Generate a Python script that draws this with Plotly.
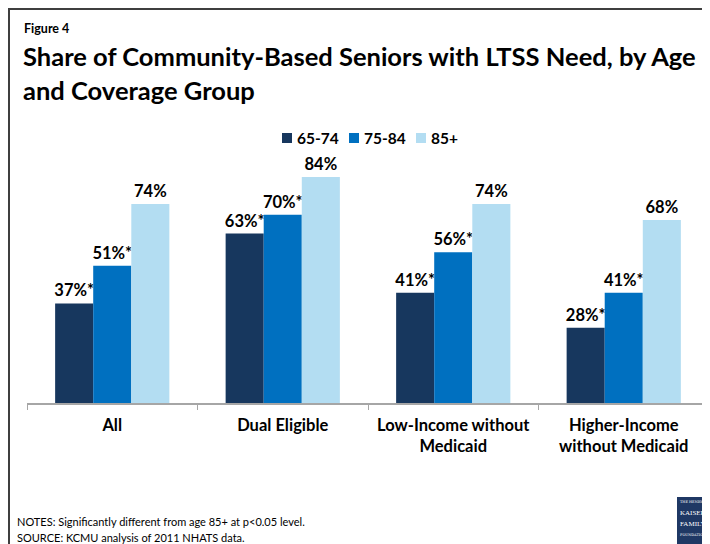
import plotly.graph_objects as go

categories = ["All", "Dual Eligible", "Low-Income without<br>Medicaid", "Higher-Income<br>without Medicaid"]
series_names = ["65-74", "75-84", "85+"]
v_65_74 = [37, 63, 41, 28]
v_75_84 = [51, 70, 56, 41]
v_85 = [74, 84, 74, 68]
lbl_65_74 = ["37%*", "63%*", "41%*", "28%*"]
lbl_75_84 = ["51%*", "70%*", "56%*", "41%*"]
lbl_85 = ["74%", "84%", "74%", "68%"]
colors = ["#17375E", "#0070C0", "#B3DDF2"]

# page body has an 8px margin; work in reference-pixel coords and shift
OFF = 8
W, H = 710 - OFF, 544 - OFF
L, R, T, B = 27 - OFF, 709 - OFF, 134 - OFF, 403 - OFF
ml, mr, mt, mb = L, W - R, T, H - B

def px(x):
    return (x - OFF - L) / (R - L)

def py(y):
    return (B - (y - OFF)) / (B - T)

FONT = "Lato"
fig = go.Figure()
for name, vals, lbls, c in zip(series_names, [v_65_74, v_75_84, v_85], [lbl_65_74, lbl_75_84, lbl_85], colors):
    fig.add_trace(go.Bar(
        x=categories, y=vals, name=name, marker=dict(color=c, line=dict(width=0)),
        text=lbls, textposition="outside", constraintext="none", cliponaxis=False,
        textfont=dict(family=FONT, size=16.5, color="#000000", weight="bold"),
        hoverinfo="skip", showlegend=False,
    ))

fig.update_layout(
    width=W, height=H, margin=dict(l=ml, r=mr, t=mt, b=mb, pad=0),
    paper_bgcolor="white", plot_bgcolor="white",
    barmode="group", bargap=0.33, bargroupgap=0,
    font=dict(family=FONT, color="#000000"),
    showlegend=False,
    xaxis=dict(showline=True, linecolor="#A6A6A6", linewidth=1.5, ticks="outside",
               tickson="boundaries", ticklen=5, tickcolor="#A6A6A6", tickwidth=1,
               ticklabelstandoff=6,
               tickfont=dict(family=FONT, size=16.5, color="#000000", weight="bold"),
               showgrid=False, zeroline=False, fixedrange=True),
    yaxis=dict(range=[0, 100], visible=False, showgrid=False, zeroline=False, fixedrange=True),
)

ann = [
    dict(text="<b>Figure 4</b>", x=px(22), y=py(28), xanchor="left", yanchor="middle", font=dict(size=12.5)),
    dict(text="<b>Share of Community-Based Seniors with LTSS Need, by Age</b>", x=px(21), y=py(56), xanchor="left", yanchor="middle", font=dict(size=25.5)),
    dict(text="<b>and Coverage Group</b>", x=px(21), y=py(90), xanchor="left", yanchor="middle", font=dict(size=25.5)),
    dict(text="NOTES: Significantly different from age 85+ at p<0.05 level.", x=px(15), y=py(521), xanchor="left", yanchor="middle", font=dict(size=11)),
    dict(text="SOURCE: KCMU analysis of 2011 NHATS data.", x=px(15), y=py(537), xanchor="left", yanchor="middle", font=dict(size=11)),
    dict(text="THE HENRY J.", x=px(678), y=py(502), xanchor="left", yanchor="middle", font=dict(size=3.5, family="DejaVu Serif", color="white")),
    dict(text="KAISER", x=px(678), y=py(513), xanchor="left", yanchor="middle", font=dict(size=7, family="Liberation Serif", color="white")),
    dict(text="FAMILY", x=px(678), y=py(524), xanchor="left", yanchor="middle", font=dict(size=7, family="Liberation Serif", color="white")),
    dict(text="FOUNDATION", x=px(678), y=py(535), xanchor="left", yanchor="middle", font=dict(size=3.5, family="DejaVu Serif", color="white")),
]
# manual legend (reference-pixel positions)
leg_sq_x = [282, 349, 416]
shapes = []
for name, c, sx in zip(series_names, colors, leg_sq_x):
    shapes.append(dict(type="rect", xref="paper", yref="paper", x0=px(sx), x1=px(sx + 10),
                       y0=py(143), y1=py(133), fillcolor=c, line=dict(width=0)))
    ann.append(dict(text="<b>" + name + "</b>", x=px(sx + 13), y=py(138), xanchor="left", yanchor="middle",
                    font=dict(size=15.5)))
for a in ann:
    a.update(xref="paper", yref="paper", showarrow=False)
    a["font"].setdefault("family", FONT)
    a["font"].setdefault("color", "#000000")
fig.update_layout(annotations=ann)

shapes += [
    dict(type="rect", xref="paper", yref="paper", x0=px(677), x1=px(715), y0=py(497), y1=py(550),
         fillcolor="#1F3864", line=dict(width=0), layer="below"),
    dict(type="line", xref="paper", yref="paper", x0=px(9), x1=px(9), y0=py(9), y1=py(550),
         line=dict(color="#3F3F3F", width=2)),
    dict(type="line", xref="paper", yref="paper", x0=px(8), x1=px(715), y0=py(9), y1=py(9),
         line=dict(color="#3F3F3F", width=2)),
]
fig.update_layout(shapes=shapes)

fig.write_html("out.html")
